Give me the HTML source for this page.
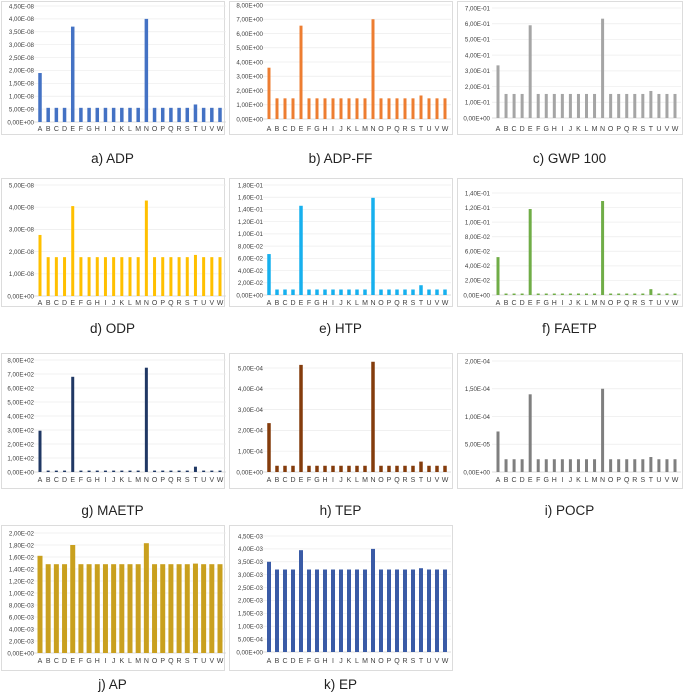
<!DOCTYPE html>
<html><head><meta charset="utf-8"><style>
body{margin:0;background:#fff;}
svg{display:block;font-family:"Liberation Sans",sans-serif;}
</style></head><body>
<svg id="c" width="685" height="695" viewBox="0 0 685 695"></svg>
<script>
const categories=["A","B","C","D","E","F","G","H","I","J","K","L","M","N","O","P","Q","R","S","T","U","V","W"];
const adpValues=[1.9e-8,.55e-8,.55e-8,.55e-8,3.7e-8,.55e-8,.55e-8,.55e-8,.55e-8,.55e-8,.55e-8,.55e-8,.55e-8,4.0e-8,.55e-8,.55e-8,.55e-8,.55e-8,.55e-8,.68e-8,.55e-8,.55e-8,.55e-8];
const adpffValues=[3.6,1.45,1.45,1.45,6.55,1.45,1.45,1.45,1.45,1.45,1.45,1.45,1.45,7.0,1.45,1.45,1.45,1.45,1.45,1.65,1.45,1.45,1.45];
const gwpValues=[.335,.153,.153,.153,.59,.153,.153,.153,.153,.153,.153,.153,.153,.632,.153,.153,.153,.153,.153,.172,.153,.153,.153];
const odpValues=[2.75e-8,1.75e-8,1.75e-8,1.75e-8,4.05e-8,1.75e-8,1.75e-8,1.75e-8,1.75e-8,1.75e-8,1.75e-8,1.75e-8,1.75e-8,4.3e-8,1.75e-8,1.75e-8,1.75e-8,1.75e-8,1.75e-8,1.85e-8,1.75e-8,1.75e-8,1.75e-8];
const htpValues=[.067,.009,.009,.009,.146,.009,.009,.009,.009,.009,.009,.009,.009,.159,.009,.009,.009,.009,.009,.016,.009,.009,.009];
const faetpValues=[.052,.002,.002,.002,.118,.002,.002,.002,.002,.002,.002,.002,.002,.129,.002,.002,.002,.002,.002,.008,.002,.002,.002];
const maetpValues=[295,10,10,10,680,10,10,10,10,10,10,10,10,745,10,10,10,10,10,38,10,10,10];
const tepValues=[2.35e-4,.3e-4,.3e-4,.3e-4,5.15e-4,.3e-4,.3e-4,.3e-4,.3e-4,.3e-4,.3e-4,.3e-4,.3e-4,5.3e-4,.3e-4,.3e-4,.3e-4,.3e-4,.3e-4,.5e-4,.3e-4,.3e-4,.3e-4];
const pocpValues=[7.3e-5,2.3e-5,2.3e-5,2.3e-5,14e-5,2.3e-5,2.3e-5,2.3e-5,2.3e-5,2.3e-5,2.3e-5,2.3e-5,2.3e-5,15e-5,2.3e-5,2.3e-5,2.3e-5,2.3e-5,2.3e-5,2.7e-5,2.3e-5,2.3e-5,2.3e-5];
const apValues=[1.62e-2,1.48e-2,1.48e-2,1.48e-2,1.80e-2,1.48e-2,1.48e-2,1.48e-2,1.48e-2,1.48e-2,1.48e-2,1.48e-2,1.48e-2,1.83e-2,1.48e-2,1.48e-2,1.48e-2,1.48e-2,1.48e-2,1.49e-2,1.48e-2,1.48e-2,1.48e-2];
const epValues=[3.5e-3,3.2e-3,3.2e-3,3.2e-3,3.95e-3,3.2e-3,3.2e-3,3.2e-3,3.2e-3,3.2e-3,3.2e-3,3.2e-3,3.2e-3,4.0e-3,3.2e-3,3.2e-3,3.2e-3,3.2e-3,3.2e-3,3.25e-3,3.2e-3,3.2e-3,3.2e-3];
const titles=["a) ADP","b) ADP-FF","c) GWP 100","d) ODP","e) HTP","f) FAETP","g) MAETP","h) TEP","i) POCP","j) AP","k) EP"];
const axisMax=[4.5e-8,8,0.7,5e-8,1.8e-1,1.4e-1,800,5e-4,2e-4,2e-2,4.5e-3];
const axisStep=[0.5e-8,1,0.1,1e-8,2e-2,2e-2,100,1e-4,5e-5,2e-3,5e-4];

const NS="http://www.w3.org/2000/svg";
const svg=document.getElementById('c');
function mk(t,a,p){const e=document.createElementNS(NS,t);for(const k in a)e.setAttribute(k,a[k]);(p||svg).appendChild(e);return e;}
function fmt(v){if(Math.abs(v)<1e-20)return "0,00E+00";let e=Math.floor(Math.log10(Math.abs(v))+1e-9);let m=v/Math.pow(10,e);if(Math.round(m*100)>=1000){m/=10;e++;}return m.toFixed(2).replace('.',',')+"E"+(e<0?"-":"+")+String(Math.abs(e)).padStart(2,'0');}
const series=[adpValues,adpffValues,gwpValues,odpValues,htpValues,faetpValues,maetpValues,tepValues,pocpValues,apValues,epValues];
const colors=["#4472C4","#ED7D31","#A5A5A5","#FFC000","#17B0EE","#70AD47","#203864","#843C0C","#7F7F7F","#C9A01E","#3A5BA6"];
const barW=[3.5,3,3,3,3.5,3,3,3.5,3,5,4];
const names=["adp","adp-ff","gwp100","odp","htp","faetp","maetp","tep","pocp","ap","ep"];
const cols=[{bx:1,bw:223,a:40,w:220,lr:34},{bx:229,bw:223,a:269,w:445,lr:263},{bx:457,bw:225,a:498,w:675,lr:490}];
const rows=[{by:1,bh:133,ly:131,ty:163},{by:178,bh:128,ly:305,ty:333},{by:353,bh:135,ly:482,ty:515},{by:525,bh:145,ly:663,ty:689}];
const zeros=[[122,6],[119,5],[118,8],[296,185],[295,185],[295,193],[472,360],[472,368],[472,361],[653,533],[652,536]];
series.forEach((vals,i)=>{
  const c=cols[i%3],r=rows[Math.floor(i/3)];
  const g=mk('g',{});
  
  
  mk('rect',{x:c.bx+.5,y:r.by+.5,width:c.bw,height:r.bh,fill:'#fff',stroke:'#dcdcdc'},g);
  const [y0,yt]=zeros[i];
  const ys=v=>y0-(v/axisMax[i])*(y0-yt);
  const xs=k=>c.a+k*(c.w-c.a)/(categories.length-1);
  const nT=Math.round(axisMax[i]/axisStep[i]);
  for(let t=0;t<=nT;t++){
    const v=t*axisStep[i],y=ys(v);
    mk('line',{x1:c.a-6,x2:c.w+6,y1:y,y2:y,stroke:t==0?'#d0d0d0':'#ececec','stroke-width':.7},g);
    const tx=mk('text',{x:c.lr,y:y+2.3,'font-size':6.2,'text-anchor':'end',fill:'#404040'},g);
    tx.textContent=fmt(v);
    
    
  }
  vals.forEach((v,k)=>{
    const b=mk('rect',{x:xs(k)-barW[i]/2,y:ys(v),width:barW[i],height:y0-ys(v),fill:colors[i]},g);
    
    
    const lt=mk('text',{x:xs(k),y:r.ly,'font-size':7,'text-anchor':'middle',fill:'#404040'},g);
    lt.textContent=categories[k];
    
    
  });
  const tt=mk('text',{x:c.bx+c.bw/2,y:r.ty,'font-size':13.5,'text-anchor':'middle',fill:'#222'},g);
  tt.textContent=titles[i];
  
  
});
</script>
</body></html>
